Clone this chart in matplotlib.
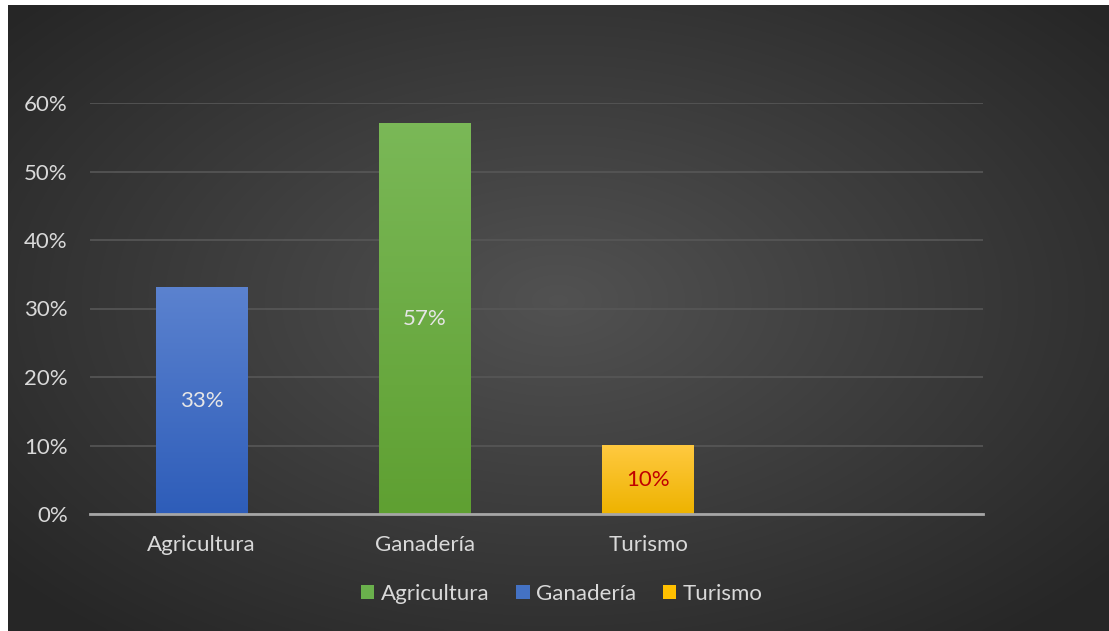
import matplotlib.pyplot as plt
import numpy as np
from matplotlib.patches import Patch
from matplotlib.ticker import PercentFormatter

plt.rcParams['font.family'] = ['Lato', 'DejaVu Sans']

categories = ['Agricultura', 'Ganadería', 'Turismo', '']
values = [0.33, 0.57, 0.10]
value_labels = ['33%', '57%', '10%']
label_colors = ['#e6e6e6', '#e6e6e6', '#c00000']
# top / bottom colours of each bar's vertical gradient
bar_top = ['#5b82cf', '#7ab857', '#ffc940']
bar_bottom = ['#2e5db9', '#5fa032', '#eeb300']
legend_names = ['Agricultura', 'Ganadería', 'Turismo']
legend_colors = ['#6ab04c', '#4472c4', '#ffc000']
yticks = [0, 0.1, 0.2, 0.3, 0.4, 0.5, 0.6]

W, H = 1109, 631
fig = plt.figure(figsize=(W / 100, H / 100), dpi=100, facecolor='white')

# dark panel with a soft radial highlight
bg = fig.add_axes([8 / W, 0, 1 - 8 / W, 1 - 5 / H])
bg.set_axis_off()
gx, gy = np.meshgrid(np.linspace(-1, 1, 400), np.linspace(-1, 1, 240))
d = np.clip(np.sqrt((gx * 0.95) ** 2 + (gy * 0.9 + 0.05) ** 2) / 1.25, 0, 1)
shade = 0.32 - (0.32 - 0.15) * d
bg.imshow(np.dstack([shade] * 3), aspect='auto', extent=[0, 1, 0, 1],
          interpolation='bicubic')
bg.set_xlim(0, 1)
bg.set_ylim(0, 1)

ax = fig.add_axes([90 / W, (H - 514) / H, (983 - 90) / W, 411 / H])
ax.set_facecolor('none')

width = 0.41
bars = ax.bar(range(len(values)), values, width=width, color='none', zorder=3)
for i, (b, v) in enumerate(zip(bars, values)):
    c0 = np.array(plt.matplotlib.colors.to_rgb(bar_top[i]))
    c1 = np.array(plt.matplotlib.colors.to_rgb(bar_bottom[i]))
    t = np.linspace(0, 1, 100)[:, None]
    grad = (c0 * (1 - t) + c1 * t)[:, None, :]
    x0 = b.get_x()
    ax.imshow(grad, aspect='auto', extent=[x0, x0 + width, 0, v],
              origin='upper', zorder=3)
    ax.text(i, v / 2, value_labels[i], ha='center', va='center',
            color=label_colors[i], fontsize=16, zorder=4)

ax.set_xlim(-0.5, len(categories) - 0.5)
ax.set_ylim(0, 0.6)
ax.set_xticks(range(len(categories)))
ax.set_xticklabels(categories)
ax.set_yticks(yticks)
ax.yaxis.set_major_formatter(PercentFormatter(1.0, decimals=0))
ax.tick_params(axis='both', length=0, colors='#d9d9d9', labelsize=16)
ax.tick_params(axis='x', pad=15)
ax.tick_params(axis='y', pad=16)
ax.grid(axis='y', color='#575757', linewidth=1.2, zorder=0)
ax.set_axisbelow(True)
for s in ['top', 'right', 'left']:
    ax.spines[s].set_visible(False)
ax.spines['bottom'].set_color('#a6a6a6')
ax.spines['bottom'].set_linewidth(2)
ax.spines['bottom'].set_zorder(5)

handles = [Patch(facecolor=c, edgecolor='none') for c in legend_colors]
fig.legend(handles, legend_names, loc='center', bbox_to_anchor=(562 / W, 1 - 594 / H),
           ncol=3, frameon=False, fontsize=16, labelcolor='#d9d9d9',
           handlelength=0.6, handleheight=0.6, handletextpad=0.3, columnspacing=1.2)

fig.savefig('out.png', dpi=100, facecolor='white')
